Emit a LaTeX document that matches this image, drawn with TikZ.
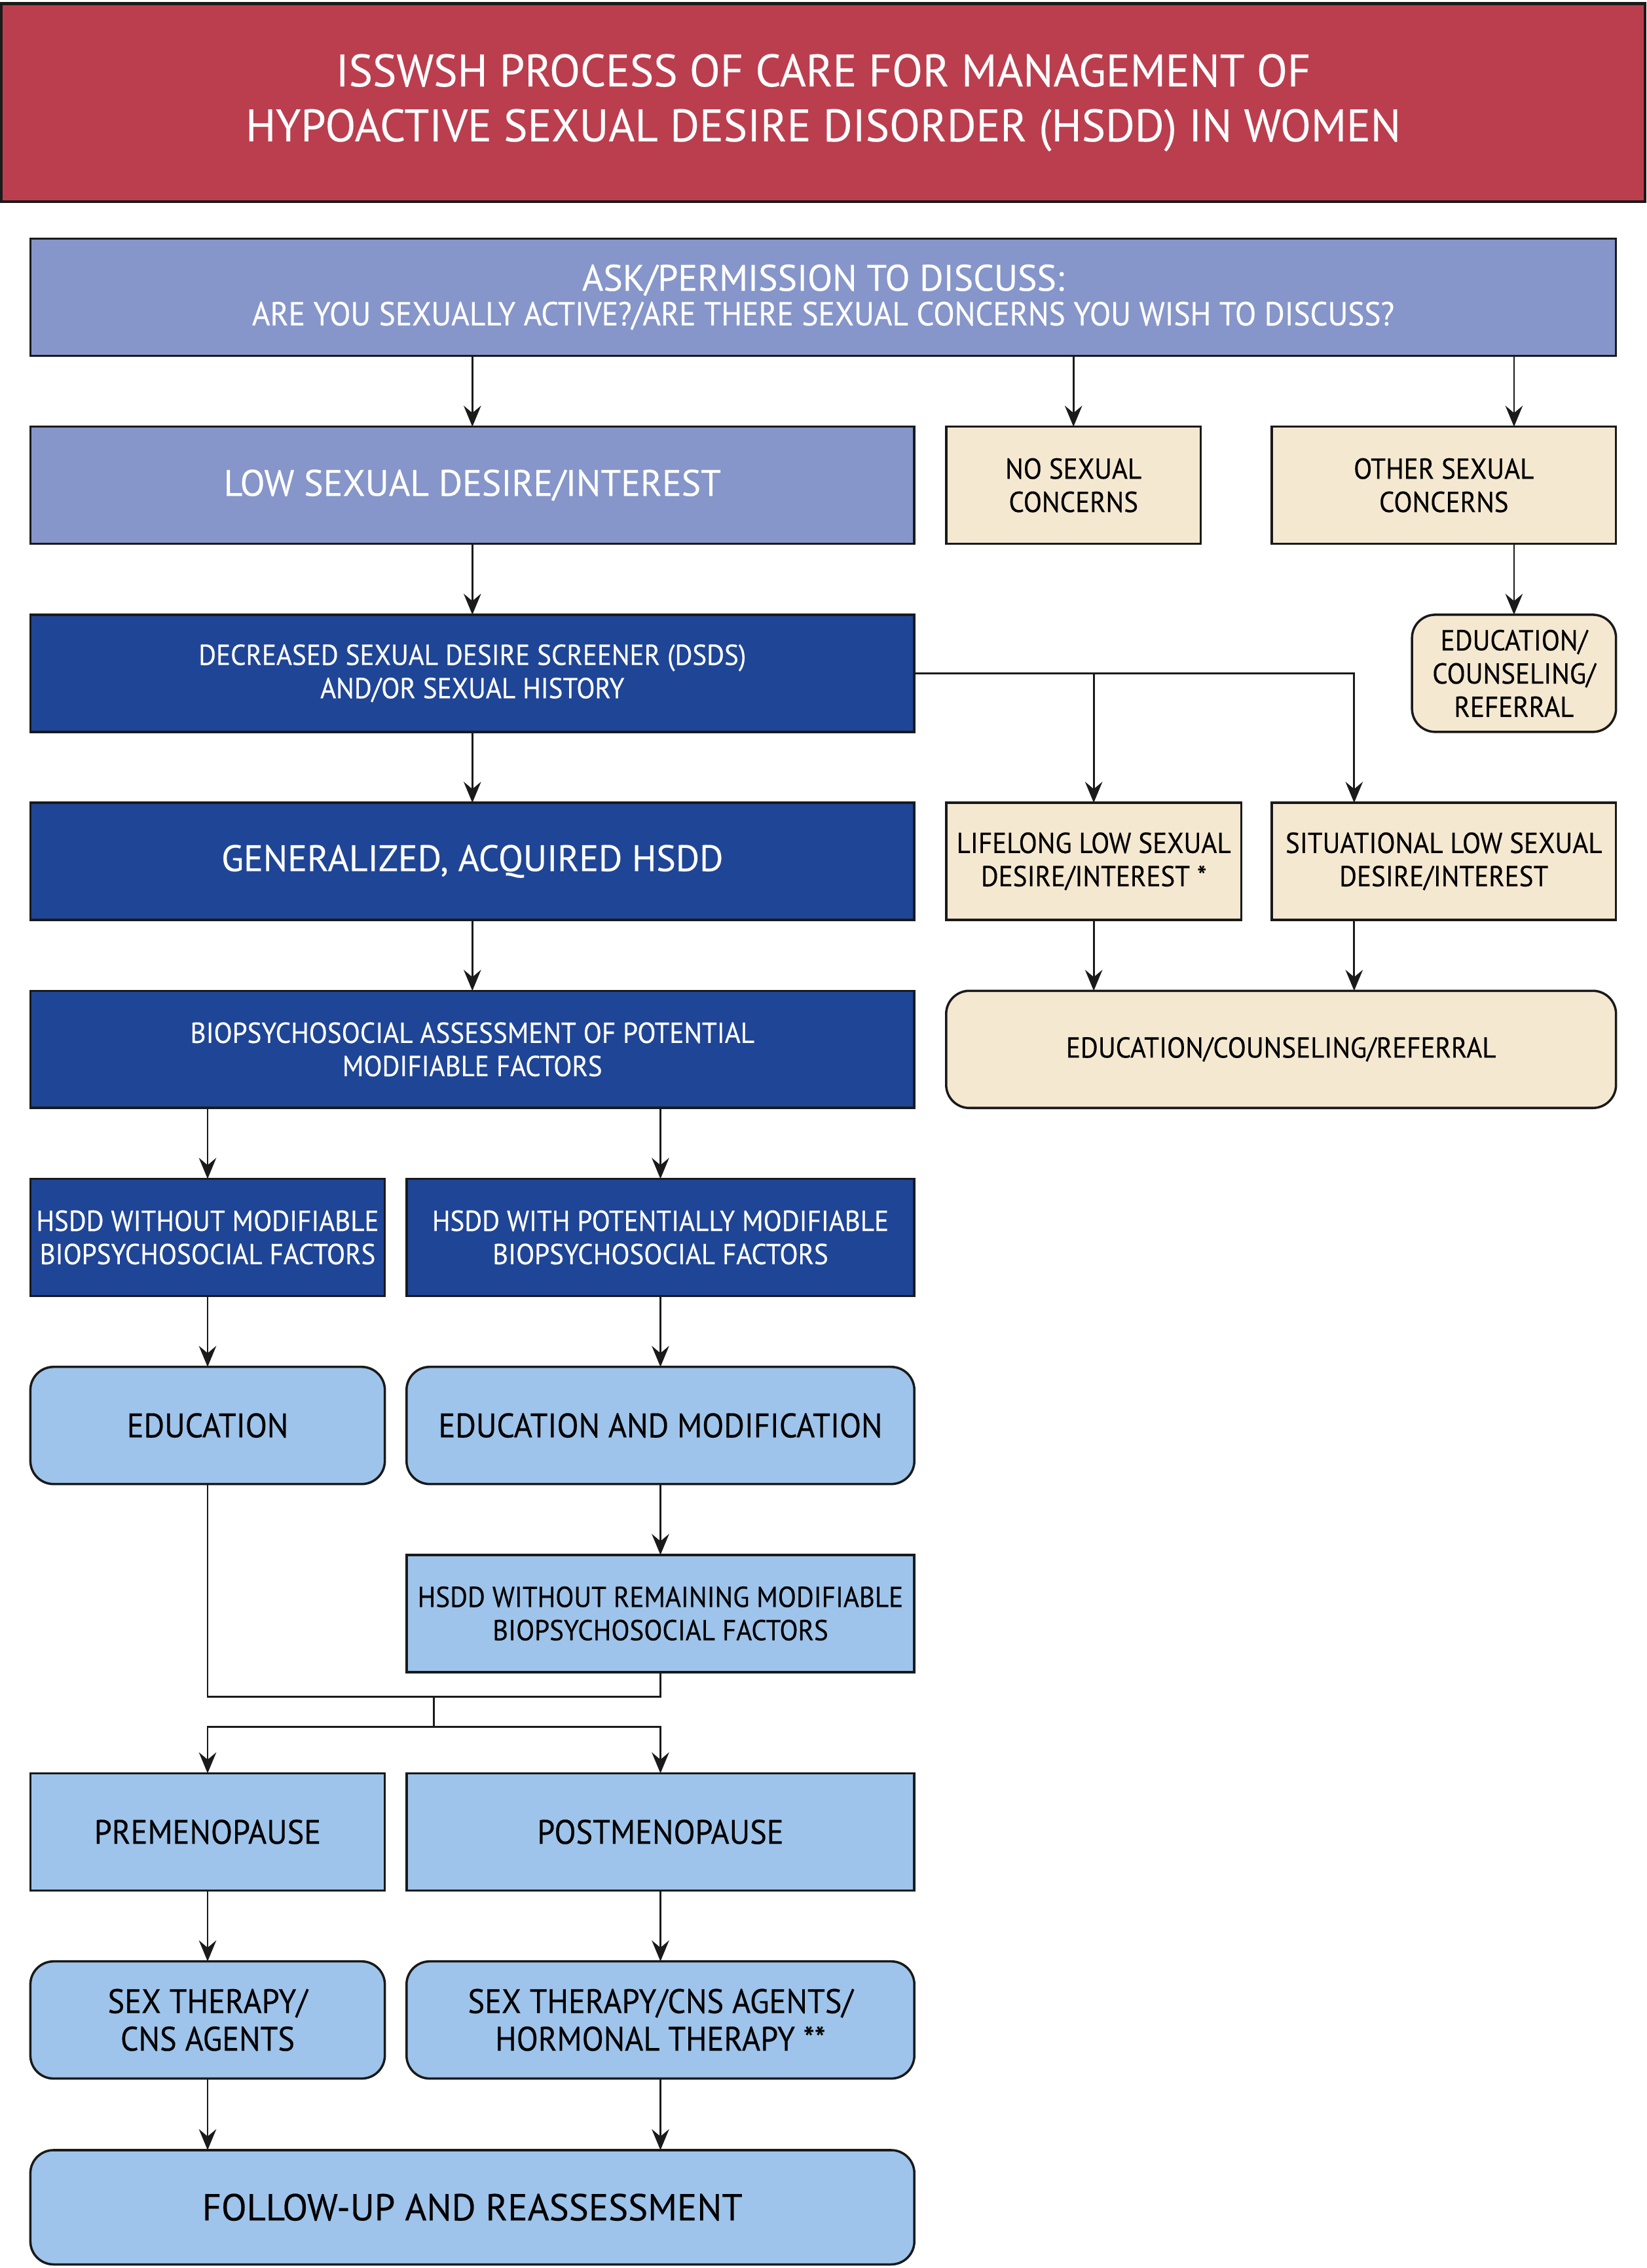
\documentclass[tikz,border=0pt]{standalone}
\usepackage{fontspec}
\setmainfont{PT Sans}[FakeStretch=0.93, FakeBold=0.35]
\newfontfamily\wideface{PT Sans}[FakeStretch=0.985, FakeBold=0.35]
\newfontfamily\titleface{PT Sans}[FakeStretch=0.985, FakeBold=0.15]
\usetikzlibrary{arrows.meta}
\definecolor{titlered}{HTML}{BB3E4E}
\definecolor{midblue}{HTML}{8696CA}
\definecolor{darkblue}{HTML}{1F4596}
\definecolor{lightblue}{HTML}{9EC4EB}
\definecolor{cream}{HTML}{F5E8D1}
\definecolor{boxline}{HTML}{1A1A1A}
\tikzset{
  box/.style={draw=boxline, line width=1.6pt, inner sep=0pt, outer sep=0pt, align=center, minimum height=81pt},
  conn/.style={draw=boxline, line width=1.3pt},
  arr/.style={conn, -{Stealth[length=14.5pt,width=12pt,inset=5pt]}},
  fTitle/.style={font=\titleface\fontsize{31.5}{38}\selectfont},
  fBig/.style={font=\wideface\fontsize{25.5}{27}\selectfont},
  fMed/.style={font=\fontsize{23.5}{26}\selectfont},
  fSmall/.style={font=\fontsize{20}{23}\selectfont},
  fFollow/.style={font=\wideface\fontsize{26}{30}\selectfont},
  redbox/.style={box, fill=titlered, text=white, line width=2pt},
  mbox/.style={box, fill=midblue, text=white},
  dbox/.style={box, fill=darkblue, text=white},
  cbox/.style={box, fill=cream, text=black},
  lbox/.style={box, fill=lightblue, text=black},
  rnd/.style={rounded corners=16pt},
}
\begin{document}
\begin{tikzpicture}[x=1pt,y=-1pt]
\useasboundingbox (0,0) rectangle (1138,1568);
% title
\node[redbox, fTitle, minimum width=1136pt, minimum height=137pt] (title) at (569,71)
  {ISSWSH PROCESS OF CARE FOR MANAGEMENT OF\\HYPOACTIVE SEXUAL DESIRE DISORDER (HSDD) IN WOMEN};
% row 1
\node[mbox, minimum width=1096pt] (ask) at (569,205.5)
  {{\wideface\fontsize{25.5}{27}\selectfont ASK/PERMISSION TO DISCUSS:}\\[3pt]{\fontsize{23}{27}\selectfont ARE YOU SEXUALLY ACTIVE?/ARE THERE SEXUAL CONCERNS YOU WISH TO DISCUSS?}};
% row 2
\node[mbox, fBig, minimum width=611pt] (low) at (326.5,335.5) {LOW SEXUAL DESIRE/INTEREST};
\node[cbox, fSmall, minimum width=176pt] (nosex) at (742,335.5) {NO SEXUAL\\CONCERNS};
\node[cbox, fSmall, minimum width=238pt] (other) at (998,335.5) {OTHER SEXUAL\\CONCERNS};
% row 3
\node[dbox, fSmall, minimum width=611pt] (dsds) at (326.5,465.5) {DECREASED SEXUAL DESIRE SCREENER (DSDS)\\AND/OR SEXUAL HISTORY};
\node[cbox, rnd, fSmall, minimum width=141pt] (edua) at (1046.5,465.5) {EDUCATION/\\COUNSELING/\\REFERRAL};
% row 4
\node[dbox, fBig, minimum width=611pt] (gen) at (326.5,595.5) {GENERALIZED, ACQUIRED HSDD};
\node[cbox, fSmall, minimum width=204pt] (life) at (756,595.5) {LIFELONG LOW SEXUAL\\DESIRE/INTEREST *};
\node[cbox, fSmall, minimum width=238pt] (sit) at (998,595.5) {SITUATIONAL LOW SEXUAL\\DESIRE/INTEREST};
% row 5
\node[dbox, fSmall, minimum width=611pt] (bio) at (326.5,725.5) {BIOPSYCHOSOCIAL ASSESSMENT OF POTENTIAL\\MODIFIABLE FACTORS};
\node[cbox, rnd, fSmall, minimum width=463pt] (edub) at (885.5,725.5) {EDUCATION/COUNSELING/REFERRAL};
% row 6
\node[dbox, fSmall, minimum width=245pt] (hwo) at (143.5,855.5) {HSDD WITHOUT MODIFIABLE\\BIOPSYCHOSOCIAL FACTORS};
\node[dbox, fSmall, minimum width=351pt] (hw) at (456.5,855.5) {HSDD WITH POTENTIALLY MODIFIABLE\\BIOPSYCHOSOCIAL FACTORS};
% row 7
\node[lbox, rnd, fMed, minimum width=245pt] (edu) at (143.5,985.5) {EDUCATION};
\node[lbox, rnd, fMed, minimum width=351pt] (edumod) at (456.5,985.5) {EDUCATION AND MODIFICATION};
% row 8
\node[lbox, fSmall, minimum width=351pt] (hwr) at (456.5,1115.5) {HSDD WITHOUT REMAINING MODIFIABLE\\BIOPSYCHOSOCIAL FACTORS};
% row 9
\node[lbox, fMed, minimum width=245pt] (pre) at (143.5,1266.5) {PREMENOPAUSE};
\node[lbox, fMed, minimum width=351pt] (post) at (456.5,1266.5) {POSTMENOPAUSE};
% row 10
\node[lbox, rnd, fMed, minimum width=245pt] (sexa) at (143.5,1396.5) {SEX THERAPY/\\CNS AGENTS};
\node[lbox, rnd, fMed, minimum width=351pt] (sexb) at (456.5,1396.5) {SEX THERAPY/CNS AGENTS/\\HORMONAL THERAPY **};
% row 11
\node[lbox, rnd, fFollow, minimum width=611pt, minimum height=79pt] (follow) at (326.5,1526) {FOLLOW-UP AND REASSESSMENT};
% helper coordinates
\coordinate (sx) at (936,465.5);
\coordinate (ja) at (300,1173);
\coordinate (jb) at (300,1194);
% connectors
\draw[arr] (low.north |- ask.south) -- (low.north);
\draw[arr] (nosex.north |- ask.south) -- (nosex.north);
\draw[arr] (edua.north |- ask.south) -- (edua.north |- other.north);
\draw[arr] (edua.north |- other.south) -- (edua.north);
\draw[arr] (low.south) -- (dsds.north);
\draw[arr] (dsds.east) -| (sx |- sit.north);
\draw[arr] (dsds.east -| life.north) -- (life.north);
\draw[arr] (life.south) -- (life.south |- edub.north);
\draw[arr] (sx |- sit.south) -- (sx |- edub.north);
\draw[arr] (dsds.south) -- (gen.north);
\draw[arr] (gen.south) -- (bio.north);
\draw[arr] (hwo.north |- bio.south) -- (hwo.north);
\draw[arr] (hw.north |- bio.south) -- (hw.north);
\draw[arr] (hwo.south) -- (edu.north);
\draw[arr] (hw.south) -- (edumod.north);
\draw[arr] (edumod.south) -- (hwr.north);
\draw[conn] (edu.south) |- (hwr.south |- ja) -- (hwr.south);
\draw[conn] (ja) -- (jb);
\draw[arr] (jb) -| (pre.north);
\draw[arr] (jb) -| (post.north);
\draw[arr] (pre.south) -- (sexa.north);
\draw[arr] (post.south) -- (sexb.north);
\draw[arr] (sexa.south) -- (sexa.south |- follow.north);
\draw[arr] (sexb.south) -- (sexb.south |- follow.north);
\end{tikzpicture}
\end{document}
